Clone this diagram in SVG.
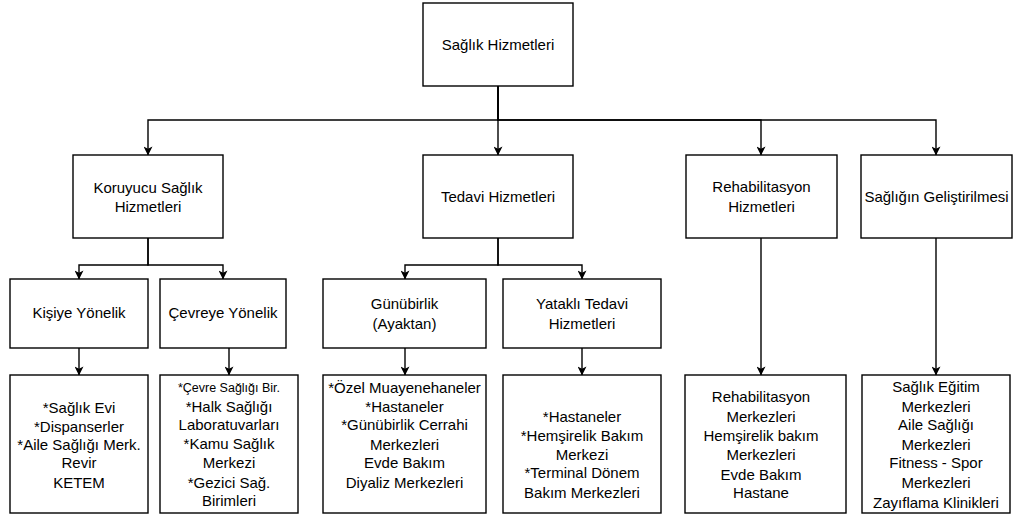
<svg xmlns="http://www.w3.org/2000/svg" width="1014" height="519" viewBox="0 0 1014 519">
  <style>
    .box { fill: #ffffff; stroke: #000000; stroke-width: 1.4; }
    .edge { fill: none; stroke: #000000; stroke-width: 1.4; marker-end: url(#arrow); }
    text { font-family: "Liberation Sans", Arial, Helvetica, sans-serif; font-size: 15px; fill: #000000; text-anchor: middle; }
    .small { font-size: 12.5px; }
  </style>
  <defs>
    <marker id="arrow" viewBox="0 0 10 10" refX="9.5" refY="5" markerWidth="9" markerHeight="9" markerUnits="userSpaceOnUse" orient="auto">
      <path d="M0,0 L10,5 L0,10 L2.5,5 Z" fill="#000000"/>
    </marker>
  </defs>
  <rect width="1014" height="519" fill="#ffffff"/>

  <!-- connectors -->
  <g id="connectors">
    <path class="edge" d="M498,86 V120 H148 V155"/>
    <path class="edge" d="M498,86 V155"/>
    <path class="edge" d="M498,86 V120 H761 V155"/>
    <path class="edge" d="M498,86 V120 H936 V155"/>
    <path class="edge" d="M148,238 V265 H79 V279"/>
    <path class="edge" d="M148,238 V265 H223 V279"/>
    <path class="edge" d="M498,238 V265 H405 V279"/>
    <path class="edge" d="M498,238 V265 H582 V279"/>
    <path class="edge" d="M79,348 V375"/>
    <path class="edge" d="M229,348 V375"/>
    <path class="edge" d="M405,348 V375"/>
    <path class="edge" d="M582,348 V375"/>
    <path class="edge" d="M761,238 V375"/>
    <path class="edge" d="M936,238 V375"/>
  </g>

  <!-- root -->
  <g id="saglik-hizmetleri">
    <rect class="box" x="423" y="3" width="150" height="83"/>
    <text x="498" y="50">Sağlık Hizmetleri</text>
  </g>

  <!-- second level -->
  <g id="koruyucu">
    <rect class="box" x="73" y="155" width="150" height="83"/>
    <text x="148" y="193">Koruyucu Sağlık</text>
    <text x="148" y="212">Hizmetleri</text>
  </g>
  <g id="tedavi">
    <rect class="box" x="423" y="155" width="150" height="83"/>
    <text x="498" y="202">Tedavi Hizmetleri</text>
  </g>
  <g id="rehabilitasyon">
    <rect class="box" x="686" y="155" width="151" height="83"/>
    <text x="761.5" y="192">Rehabilitasyon</text>
    <text x="761.5" y="212">Hizmetleri</text>
  </g>
  <g id="gelistirme">
    <rect class="box" x="861" y="155" width="151" height="83"/>
    <text x="936.5" y="202">Sağlığın Geliştirilmesi</text>
  </g>

  <!-- third level -->
  <g id="kisiye">
    <rect class="box" x="10" y="279" width="138" height="69"/>
    <text x="79" y="318">Kişiye Yönelik</text>
  </g>
  <g id="cevreye">
    <rect class="box" x="160" y="279" width="126" height="69"/>
    <text x="223" y="318">Çevreye Yönelik</text>
  </g>
  <g id="gunubirlik">
    <rect class="box" x="323" y="279" width="163" height="69"/>
    <text x="404.5" y="309">Günübirlik</text>
    <text x="404.5" y="329">(Ayaktan)</text>
  </g>
  <g id="yatakli">
    <rect class="box" x="503" y="279" width="158" height="69"/>
    <text x="582" y="309">Yataklı Tedavi</text>
    <text x="582" y="329">Hizmetleri</text>
  </g>

  <!-- leaf boxes -->
  <g id="kisiye-liste">
    <rect class="box" x="10" y="375" width="138" height="138"/>
    <text x="79" y="413">*Sağlık Evi</text>
    <text x="79" y="432">*Dispanserler</text>
    <text x="79" y="450">*Aile Sağlığı Merk.</text>
    <text x="79" y="468">Revir</text>
    <text x="79" y="488">KETEM</text>
  </g>
  <g id="cevreye-liste">
    <rect class="box" x="160" y="375" width="138" height="138"/>
    <text class="small" x="229" y="392">*Çevre Sağlığı Bir.</text>
    <text x="229" y="412">*Halk Sağlığı</text>
    <text x="229" y="430">Laboratuvarları</text>
    <text x="229" y="449">*Kamu Sağlık</text>
    <text x="229" y="468">Merkezi</text>
    <text x="229" y="488">*Gezici Sağ.</text>
    <text x="229" y="506">Birimleri</text>
  </g>
  <g id="gunubirlik-liste">
    <rect class="box" x="323" y="375" width="163" height="138"/>
    <text x="404.5" y="393">*Özel Muayenehaneler</text>
    <text x="404.5" y="412">*Hastaneler</text>
    <text x="404.5" y="430">*Günübirlik Cerrahi</text>
    <text x="404.5" y="450">Merkezleri</text>
    <text x="404.5" y="468">Evde Bakım</text>
    <text x="404.5" y="488">Diyaliz Merkezleri</text>
  </g>
  <g id="yatakli-liste">
    <rect class="box" x="503" y="375" width="158" height="138"/>
    <text x="582" y="422">*Hastaneler</text>
    <text x="582" y="441">*Hemşirelik Bakım</text>
    <text x="582" y="460">Merkezi</text>
    <text x="582" y="478">*Terminal Dönem</text>
    <text x="582" y="498">Bakım Merkezleri</text>
  </g>
  <g id="rehabilitasyon-liste">
    <rect class="box" x="685" y="375" width="161" height="138"/>
    <text x="761" y="402">Rehabilitasyon</text>
    <text x="761" y="422">Merkezleri</text>
    <text x="761" y="441">Hemşirelik bakım</text>
    <text x="761" y="460">Merkezleri</text>
    <text x="761" y="480">Evde Bakım</text>
    <text x="761" y="498">Hastane</text>
  </g>
  <g id="gelistirme-liste">
    <rect class="box" x="862" y="375" width="148" height="138"/>
    <text x="936" y="392">Sağlık Eğitim</text>
    <text x="936" y="412">Merkezleri</text>
    <text x="936" y="430">Aile Sağlığı</text>
    <text x="936" y="450">Merkezleri</text>
    <text x="936" y="468">Fitness - Spor</text>
    <text x="936" y="488">Merkezleri</text>
    <text x="936" y="508">Zayıflama Klinikleri</text>
  </g>
</svg>
